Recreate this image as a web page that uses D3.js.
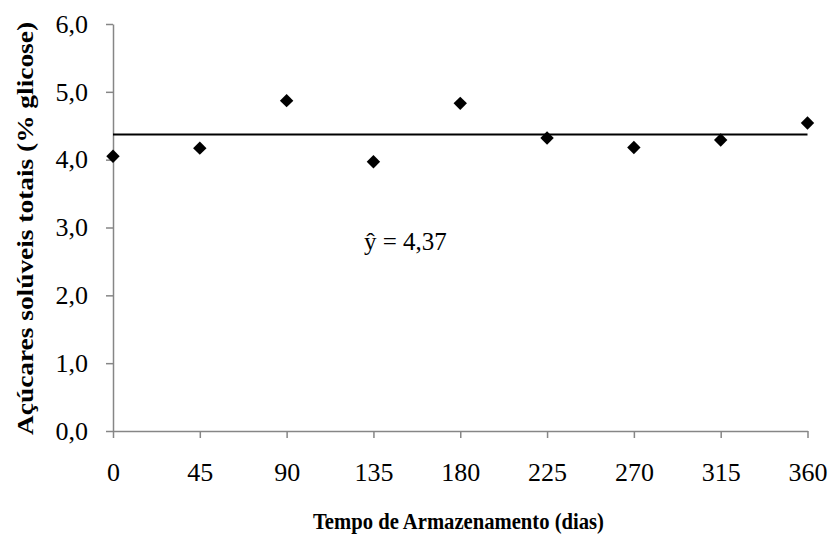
<!DOCTYPE html>
<html>
<head>
<meta charset="utf-8">
<script src="https://cdn.jsdelivr.net/npm/d3@7"></script>
<style>
  body { margin: 0; background: #fff; }
</style>
</head>
<body>
<div id="chart"></div>
<script>
// data
var days = [0, 45, 90, 135, 180, 225, 270, 315, 360];
var sugars = [4.05, 4.17, 4.87, 3.97, 4.83, 4.32, 4.18, 4.29, 4.54];
var meanValue = 4.37;
var xTicks = [0, 45, 90, 135, 180, 225, 270, 315, 360];
var yTicks = [0, 1, 2, 3, 4, 5, 6];

var width = 832, height = 535
  , margin = {top: 24, right: 24, bottom: 104, left: 113}
  , axisColor = "#868686"
  , serif = '"Liberation Serif", serif'
  , fmt = function(d) { return d3.format(".1f")(d).replace(".", ","); }
  ;

var xScale = d3.scaleLinear().domain([0, 360]).range([margin.left, 807.5]);
var yScale = d3.scaleLinear().domain([0, 6]).range([431, margin.top]);

var svg = d3.select("#chart").append("svg")
    .attr("width", width)
    .attr("height", height);

// y axis
var yAxis = svg.append("g")
    .attr("transform", "translate(" + xScale(0) + ",0)")
    .call(d3.axisLeft(yScale).tickValues(yTicks).tickFormat(fmt).tickSize(7).tickPadding(18).tickSizeOuter(0));
yAxis.select(".domain").attr("stroke", axisColor).attr("stroke-width", 1.5);
yAxis.selectAll(".tick line").attr("stroke", axisColor).attr("stroke-width", 1.5);
yAxis.selectAll(".tick text").style("font-family", serif).style("font-size", "26px").attr("fill", "#000");

// x axis
var xAxis = svg.append("g")
    .attr("transform", "translate(0," + yScale(0) + ")")
    .call(d3.axisBottom(xScale).tickValues(xTicks).tickSize(7).tickPadding(25).tickSizeOuter(0));
xAxis.select(".domain").attr("stroke", axisColor).attr("stroke-width", 1.5);
xAxis.selectAll(".tick line").attr("stroke", axisColor).attr("stroke-width", 1.5);
xAxis.selectAll(".tick text").style("font-family", serif).style("font-size", "26px").attr("fill", "#000");

// mean line
svg.append("line")
    .attr("x1", xScale(0))
    .attr("x2", xScale(360))
    .attr("y1", yScale(meanValue))
    .attr("y2", yScale(meanValue))
    .attr("stroke", "#000")
    .attr("stroke-width", 2);

// points
var diamond = d3.symbol().type(d3.symbolSquare).size(90);
svg.selectAll(".pt")
    .data(days)
    .enter()
    .append("path")
      .attr("class", "pt")
      .attr("d", diamond)
      .attr("transform", function(d, i) {
          return "translate(" + xScale(d) + "," + yScale(sugars[i]) + ") rotate(45)";
      })
      .attr("fill", "#000");

// equation
svg.append("text")
    .attr("x", 364)
    .attr("y", 250)
    .style("font-family", serif)
    .style("font-size", "25px")
    .text("ŷ = 4,37");

// axis titles
svg.append("text")
    .attr("x", 313)
    .attr("y", 529)
    .attr("textLength", 291)
    .attr("lengthAdjust", "spacingAndGlyphs")
    .style("font-family", serif)
    .style("font-size", "23px")
    .style("font-weight", "bold")
    .text("Tempo de Armazenamento (dias)");

svg.append("text")
    .attr("transform", "translate(33,435) rotate(-90)")
    .attr("textLength", 413)
    .attr("lengthAdjust", "spacingAndGlyphs")
    .style("font-family", serif)
    .style("font-size", "24px")
    .style("font-weight", "bold")
    .text("Açúcares solúveis totais (%  glicose)");
</script>
</body>
</html>
